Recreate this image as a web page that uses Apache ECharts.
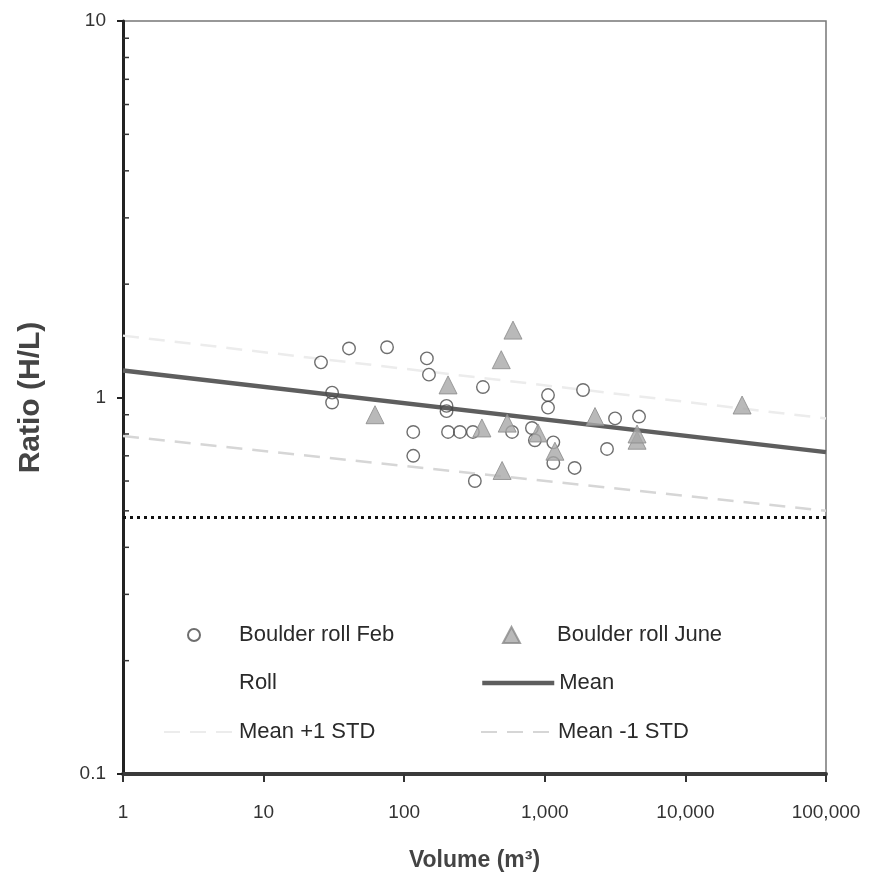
<!DOCTYPE html>
<html>
<head>
<meta charset="utf-8">
<script src="https://cdn.jsdelivr.net/npm/echarts@6/dist/echarts.min.js"></script>
<style>
html,body{margin:0;padding:0;background:#fff;}
#chart{width:878px;height:877px;}
</style>
</head>
<body>
<div id="chart"></div>
<script>
// ---- data ----
const febData = [
  [25.6,1.24],[40.5,1.35],[75.5,1.36],[145,1.27],[150,1.15],
  [30.7,1.03],[30.7,0.97],[116,0.81],[116,0.70],[205,0.81],
  [249,0.81],[308,0.81],[200,0.95],[200,0.92],[363,1.066],
  [318,0.60],[1054,1.015],[1054,0.94],[1870,1.047],[3160,0.88],
  [4680,0.89],[2770,0.73],[585,0.81],[810,0.83],[850,0.77],
  [1150,0.76],[1150,0.67],[1630,0.65]
];
const juneData = [
  [62,0.90],[205,1.08],[490,1.26],[594,1.51],[357,0.83],
  [540,0.855],[497,0.64],[895,0.805],[1180,0.72],[2275,0.89],
  [4530,0.77],[4530,0.80],[25300,0.955]
];
const rollData = [[1,0.48],[100000,0.48]];
const meanData = [[1,1.18],[100000,0.716]];
const meanPlusData = [[1,1.46],[100000,0.88]];
const meanMinusData = [[1,0.79],[100000,0.50]];
const xTickLabels = ['1','10','100','1,000','10,000','100,000'];
const yTickLabels = ['0.1','1','10'];
const yMinorTicks = [0.2,0.3,0.4,0.5,0.6,0.7,0.8,0.9,2,3,4,5,6,7,8,9];

const chart = echarts.init(document.getElementById('chart'), null, {renderer:'canvas'});
const FONT = 'Liberation Sans, Arial, sans-serif';
const TXT = {fontSize:22, color:'#2a2a2a', fontFamily:FONT};

function legendBox(item, left, top, w, h, padLeft){
  return {
    data:[item], left:left, top:top, padding:0, itemWidth:w, itemHeight:h,
    itemGap:0, selectedMode:false,
    textStyle:Object.assign({}, TXT, {padding:[0,0,0,padLeft||0]})
  };
}

const option = {
  animation:false,
  backgroundColor:'#fff',
  grid:{left:123, right:52, top:21, bottom:103, show:true, borderColor:'#777', borderWidth:1.5, containLabel:false},
  legend:[
    legendBox({name:'Boulder roll Feb'},187,624,12,12,34),
    legendBox({name:'Boulder roll June'},502,624,17,16,32),
    legendBox({name:'Roll', itemStyle:{opacity:0}, lineStyle:{opacity:0}},163,672,70,14,0),
    legendBox({name:'Mean', itemStyle:{opacity:0}, lineStyle:{width:4.5}},480,672,72,14,0),
    legendBox({name:'Mean +1 STD', itemStyle:{opacity:0}},163,721,70,14,0),
    legendBox({name:'Mean -1 STD', itemStyle:{opacity:0}},480,721,72,14,0)
  ],
  xAxis:{
    type:'log', logBase:10, min:1, max:100000, splitNumber:5,
    name:'Volume (m³)', nameLocation:'middle', nameGap:75,
    nameTextStyle:{fontSize:23, fontWeight:'bold', color:'#444', fontFamily:FONT},
    axisLine:{show:true, lineStyle:{color:'#3a3a3a', width:4}},
    axisTick:{show:true, inside:false, length:8, lineStyle:{color:'#333', width:2}},
    axisLabel:{margin:29, fontSize:19, color:'#333', fontFamily:FONT,
      formatter:function(v){ return xTickLabels[Math.round(Math.log10(v))]; }},
    splitLine:{show:false}, minorTick:{show:false}
  },
  yAxis:{
    type:'log', logBase:10, min:0.1, max:10, splitNumber:2,
    name:'Ratio (H/L)', nameLocation:'middle', nameGap:77,
    nameTextStyle:{fontSize:30, fontWeight:'bold', color:'#444', fontFamily:FONT},
    axisLine:{show:true, lineStyle:{color:'#222', width:3}},
    axisTick:{show:true, inside:false, length:6, lineStyle:{color:'#222', width:2}},
    axisLabel:{margin:17, fontSize:19, color:'#333', fontFamily:FONT,
      formatter:function(v){ return yTickLabels[Math.round(Math.log10(v))+1]; }},
    splitLine:{show:false}
  },
  series:[
    {
      name:'minorTicks', type:'custom', coordinateSystem:'cartesian2d', silent:true,
      data:yMinorTicks.map(v=>[1,v]), z:1,
      renderItem:function(params, api){
        const p = api.coord([api.value(0), api.value(1)]);
        return {type:'line', shape:{x1:p[0], y1:p[1], x2:p[0]+6, y2:p[1]},
          style:{stroke:'#333', lineWidth:1.5}};
      }
    },
    {
      name:'Mean +1 STD', type:'line', data:meanPlusData, showSymbol:false, symbol:'none',
      itemStyle:{color:'#ececec'},
      lineStyle:{color:'#ececec', width:2.5, type:[16,10]}, z:2
    },
    {
      name:'Mean -1 STD', type:'line', data:meanMinusData, showSymbol:false, symbol:'none',
      itemStyle:{color:'#d6d6d6'},
      lineStyle:{color:'#d6d6d6', width:2.5, type:[16,10]}, z:2
    },
    {
      name:'Roll', type:'line', data:rollData, showSymbol:false, symbol:'none',
      itemStyle:{color:'#111'},
      lineStyle:{color:'#111', width:3, type:[3,4]}, z:3
    },
    {
      name:'Mean', type:'line', data:meanData, showSymbol:false, symbol:'none',
      itemStyle:{color:'#5e5e5e'},
      lineStyle:{color:'#5e5e5e', width:4.5}, z:3
    },
    {
      name:'Boulder roll Feb', type:'scatter', data:febData, symbol:'circle', symbolSize:12.5,
      itemStyle:{color:'rgba(255,255,255,0)', borderColor:'#4a4a4a', borderWidth:1.4}, z:5
    },
    {
      name:'Boulder roll June', type:'scatter', data:juneData, symbol:'triangle', symbolSize:[18,18],
      itemStyle:{color:'#a8a8a8', borderColor:'#8a8a8a', borderWidth:1}, z:6
    }
  ]
};
chart.setOption(option);
</script>
</body>
</html>
